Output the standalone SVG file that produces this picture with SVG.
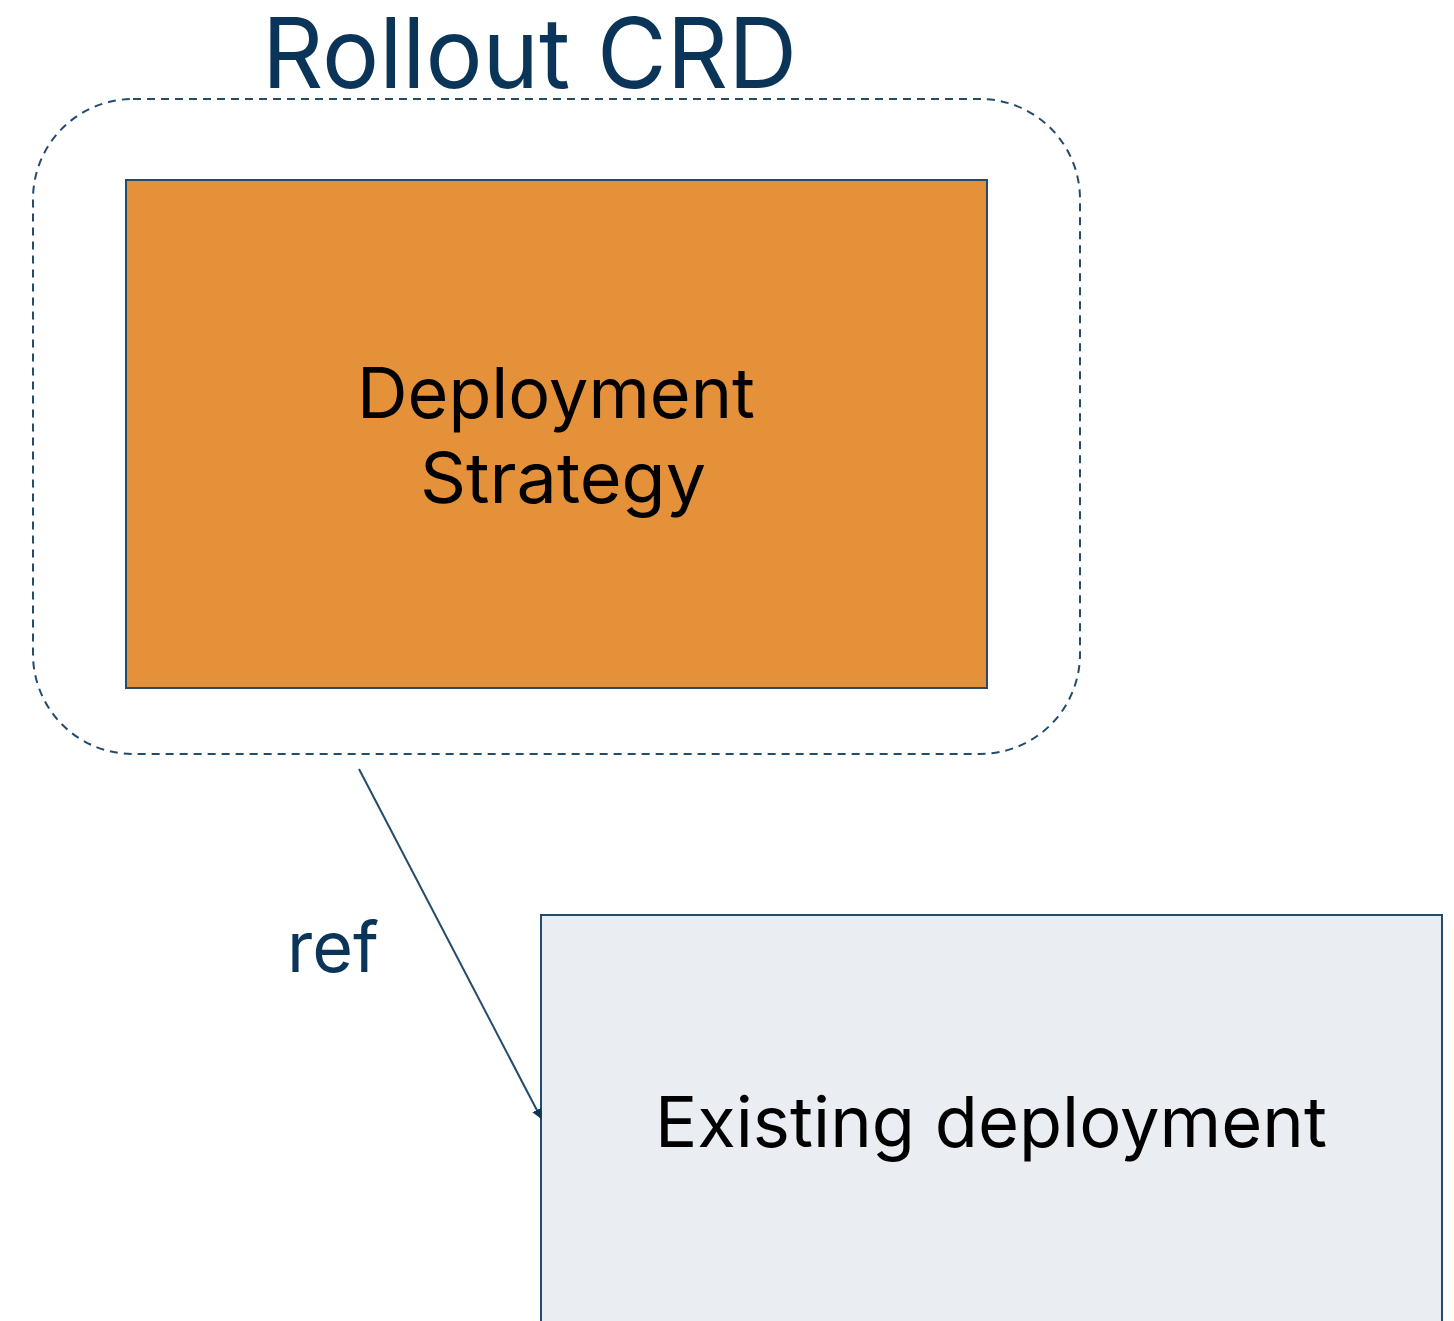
<svg xmlns="http://www.w3.org/2000/svg" width="1454" height="1321" viewBox="0 0 1454 1321">
  <style>
    .ttl { font-family: Inter, "Noto Sans", "Liberation Sans", sans-serif; fill: #0b3558; }
    .lbl { font-family: Inter, "Noto Sans", "Liberation Sans", sans-serif; fill: #000000; font-size: 70px; }
    .box { stroke: #234b6e; stroke-width: 2; }
  </style>
  <defs>
    <marker id="arrow" viewBox="0 0 10 10" refX="9" refY="5" markerWidth="10" markerHeight="10" markerUnits="userSpaceOnUse" orient="auto">
      <path d="M0,0 L10,5 L0,10 z" fill="#0b3558"/>
    </marker>
  </defs>
  <rect width="1454" height="1321" fill="#ffffff"/>

  <!-- container: Rollout CRD -->
  <g id="rollout-crd">
    <rect x="33" y="99" width="1047" height="655" rx="100" ry="100" fill="none" stroke="#234b6e" stroke-width="2" stroke-dasharray="8,6"/>
    <text class="ttl" x="262" y="88" font-size="98" textLength="535" lengthAdjust="spacingAndGlyphs">Rollout CRD</text>
  </g>

  <g id="deployment-strategy">
    <rect class="box" x="126" y="180" width="861" height="508" fill="#e5913a"/>
    <text class="lbl" x="357" y="418" textLength="398" lengthAdjust="spacingAndGlyphs">Deployment</text>
    <text class="lbl" x="420" y="503" textLength="286" lengthAdjust="spacingAndGlyphs">Strategy</text>
  </g>

  <g id="existing-deployment">
    <rect class="box" x="541" y="915" width="901" height="420" fill="#eaedf2"/>
    <text class="lbl" x="655" y="1147" textLength="672" lengthAdjust="spacingAndGlyphs">Existing deployment</text>
  </g>

  <g id="connectors">
    <line x1="359" y1="769" x2="541" y2="1118" stroke="#234b6e" stroke-width="2" marker-end="url(#arrow)"/>
    <text class="ttl" x="287" y="972" font-size="70">ref</text>
  </g>
</svg>
